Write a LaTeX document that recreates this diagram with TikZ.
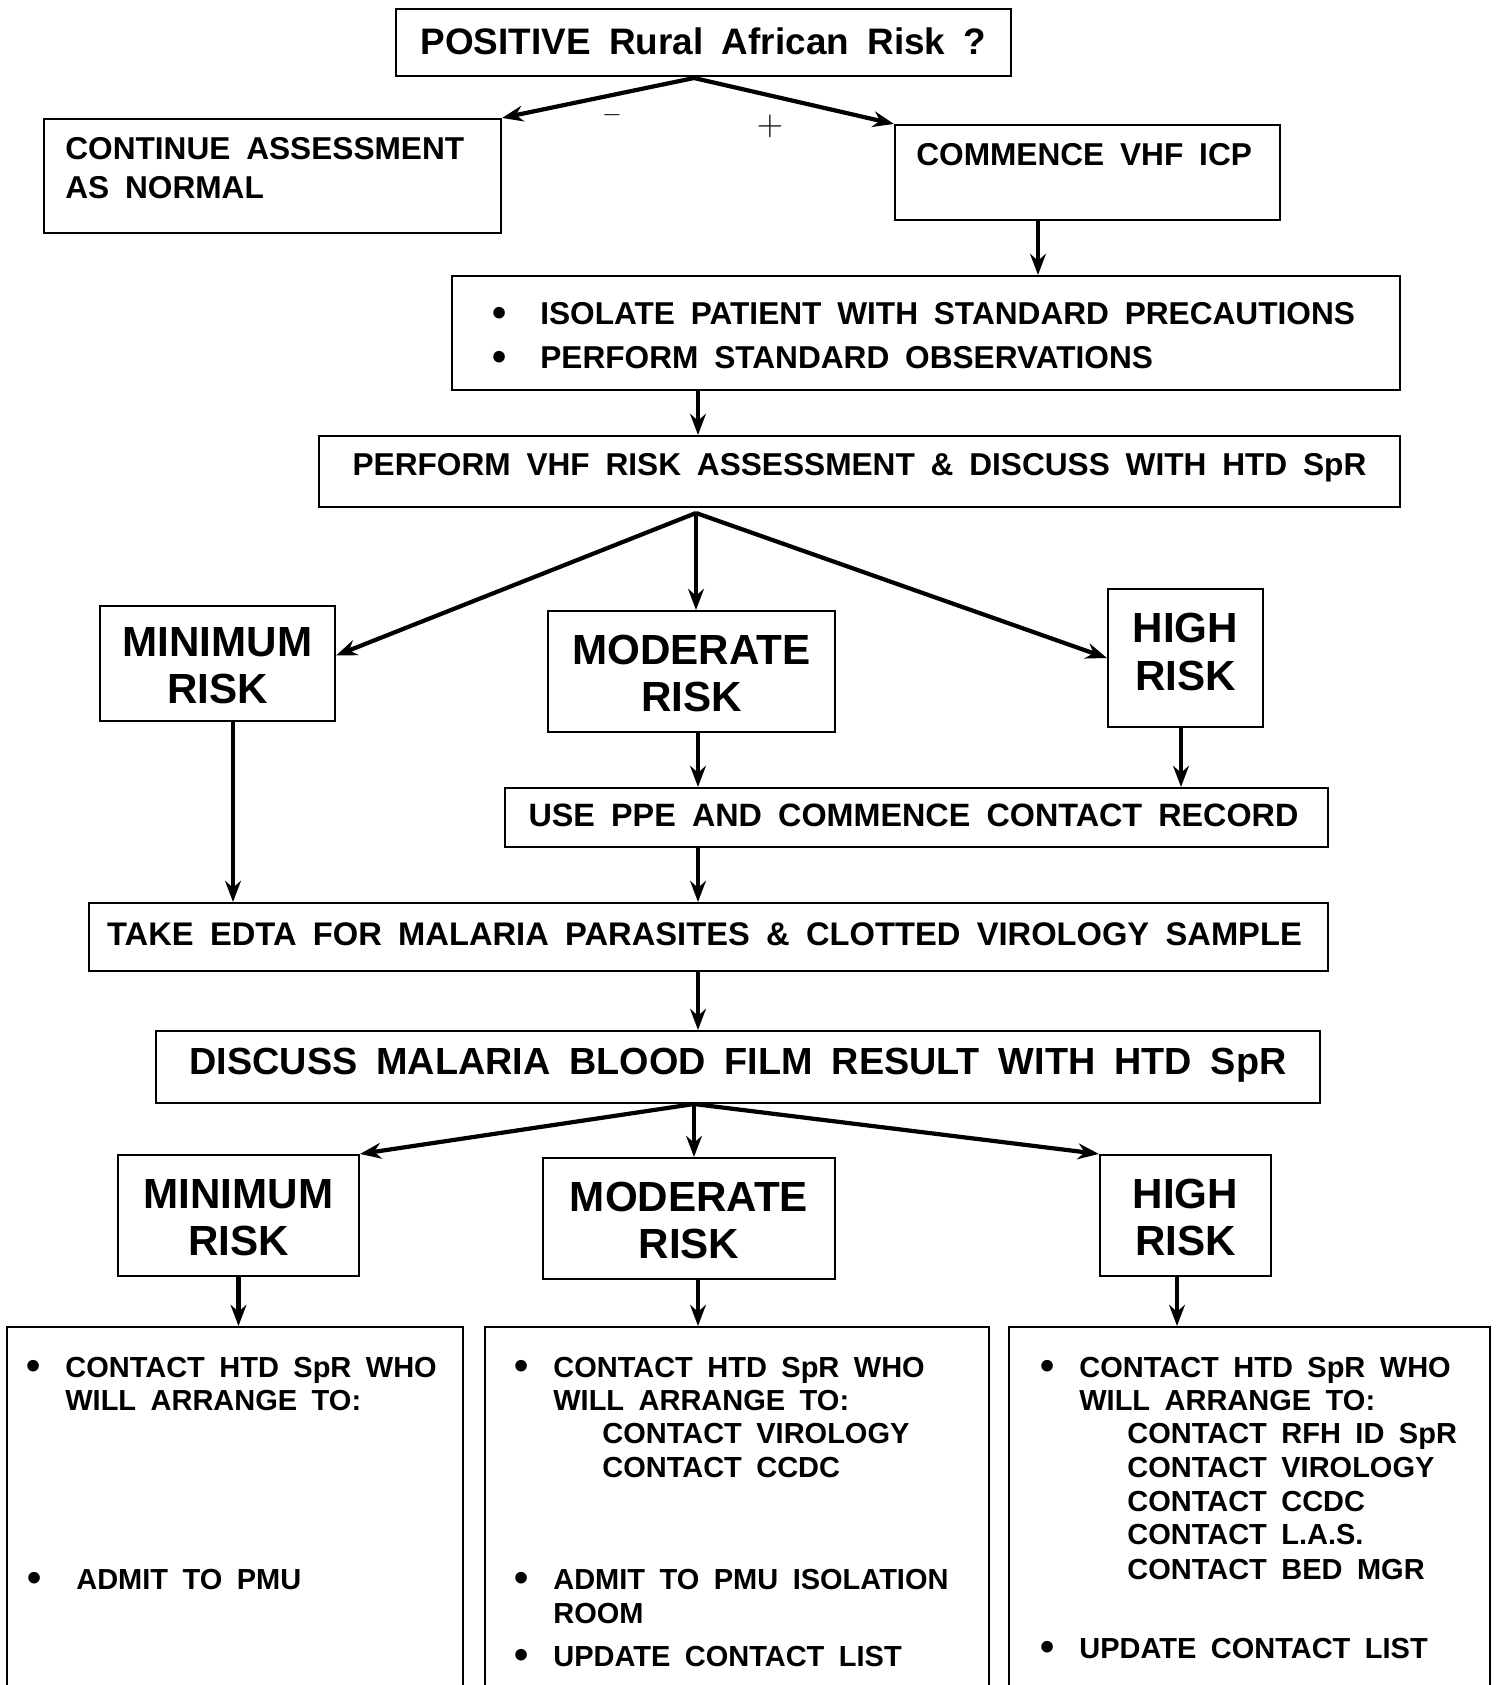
\documentclass[tikz,border=0pt]{standalone}
\usepackage{fontspec}
\setmainfont{Liberation Sans}[WordSpace=1.8]
\usetikzlibrary{arrows.meta,fit,calc}

\newcommand{\bul}[1][14pt]{\llap{\raisebox{-1.2pt}{\fontsize{23}{23}\selectfont\textbullet}\hspace{#1}}}

\begin{document}
\begin{tikzpicture}[
  x=0.02cm, y=-0.02cm,
  box/.style={draw, line width=1.2pt, inner sep=0pt},
  mid/.style={inner sep=0pt, font=\fontsize{18}{21}\selectfont\bfseries},
  risk/.style={inner sep=0pt, align=center, font=\fontsize{24}{27}\selectfont\bfseries},
  conn/.style={line width=2.4pt, -{Stealth[length=12pt, width=9pt]}},
  txt/.style={anchor=base west, inner sep=0pt, font=\fontsize{18}{21}\selectfont\bfseries},
  small/.style={txt, font=\fontsize{16.5}{19}\selectfont\bfseries}
]
\useasboundingbox (0,0) rectangle (1499,1685);

% boxes
\node[box, fit={(396,9) (1011,76)}] (top) {};
\node[box, fit={(44,119) (501,233)}] (cont) {};
\node[box, fit={(895,125) (1280,220)}] (comm) {};
\node[box, fit={(452,276) (1400,390)}] (isol) {};
\node[box, fit={(319,436) (1400,507)}] (perf) {};
\node[box, fit={(100,606) (335,721)}] (min1) {};
\node[box, fit={(548,611) (835,732)}] (mod1) {};
\node[box, fit={(1108,589) (1263,727)}] (high1) {};
\node[box, fit={(505,788) (1328,847)}] (ppe) {};
\node[box, fit={(89,903) (1328,971)}] (edta) {};
\node[box, fit={(156,1031) (1320,1103)}] (disc) {};
\node[box, fit={(118,1155) (359,1276)}] (min2) {};
\node[box, fit={(543,1158) (835,1279)}] (mod2) {};
\node[box, fit={(1100,1155) (1271,1276)}] (high2) {};
\node[box, fit={(7,1327) (463,1700)}] (bl) {};
\node[box, fit={(485,1327) (989,1700)}] (bm) {};
\node[box, fit={(1009,1327) (1490,1700)}] (br) {};

% centred texts
\node[mid, font=\fontsize{21}{24}\selectfont\bfseries] (topT) at ($(top)+(0,-1)$) {POSITIVE Rural African Risk ?};
\node[mid] (perfT) at ($(perf)+(0,-4)$) {PERFORM VHF RISK ASSESSMENT \& DISCUSS WITH HTD SpR};
\node[risk] (min1T) at ($(min1)+(0,2)$) {MINIMUM\\RISK};
\node[risk] (mod1T) at ($(mod1)+(0,2)$) {MODERATE\\RISK};
\node[risk] (high1T) at ($(high1)+(0,-6)$) {HIGH\\RISK};
\node[mid, font=\fontsize{18.4}{21}\selectfont\bfseries] (ppeT) at ($(ppe)+(-3,-2)$) {USE PPE AND COMMENCE CONTACT RECORD};
\node[mid, font=\fontsize{18.6}{21}\selectfont\bfseries] (edtaT) at ($(edta)+(-4,-3)$) {TAKE EDTA FOR MALARIA PARASITES \& CLOTTED VIROLOGY SAMPLE};
\node[mid, font=\fontsize{21.5}{24}\selectfont\bfseries] (discT) at ($(disc)+(0,-2)$) {DISCUSS MALARIA BLOOD FILM RESULT WITH HTD SpR};
\node[risk] (min2T) at ($(min2)+(0,2)$) {MINIMUM\\RISK};
\node[risk] (mod2T) at ($(mod2)+(0,2)$) {MODERATE\\RISK};
\node[risk] (high2T) at ($(high2)+(0,2)$) {HIGH\\RISK};

% texts in the boxes
\node[txt] (contA) at (65,159) {CONTINUE ASSESSMENT};
\node[txt] (contB) at (65,198) {AS NORMAL};
\node[txt] (commA) at (916,165) {COMMENCE VHF ICP};
\node[txt] (isolA) at (540,324) {\bul[19pt]ISOLATE PATIENT WITH STANDARD PRECAUTIONS};
\node[txt] (isolB) at (540,368) {\bul[19pt]PERFORM STANDARD OBSERVATIONS};

\node[small] (blA) at (65,1377) {\bul CONTACT HTD SpR WHO};
\node[small] (blB) at (65,1410) {WILL ARRANGE TO:};
\node[small] (blC) at (76,1589) {\bul[20pt]ADMIT TO PMU};

\node[small] (bmA) at (553,1377) {\bul CONTACT HTD SpR WHO};
\node[small] (bmB) at (553,1410) {WILL ARRANGE TO:};
\node[small] (bmC) at (602,1443) {CONTACT VIROLOGY};
\node[small] (bmD) at (602,1477) {CONTACT CCDC};
\node[small] (bmE) at (553,1589) {\bul ADMIT TO PMU ISOLATION};
\node[small] (bmF) at (553,1623) {ROOM};
\node[small] (bmG) at (553,1666) {\bul UPDATE CONTACT LIST};

\node[small] (brA) at (1079,1377) {\bul CONTACT HTD SpR WHO};
\node[small] (brB) at (1079,1410) {WILL ARRANGE TO:};
\node[small] (brC) at (1127,1443) {CONTACT RFH ID SpR};
\node[small] (brD) at (1127,1477) {CONTACT VIROLOGY};
\node[small] (brE) at (1127,1511) {CONTACT CCDC};
\node[small] (brF) at (1127,1544) {CONTACT L.A.S.};
\node[small] (brG) at (1127,1579) {CONTACT BED MGR};
\node[small] (brH) at (1079,1658) {\bul UPDATE CONTACT LIST};

% branch signs
\node[font=\fontsize{14}{14}\selectfont] (minus) at (612,115) {$-$};
\node[font=\fontsize{22}{22}\selectfont] (plus) at (770,126) {$+$};

% fork points and arrow columns
\coordinate (tfork) at (694,78);
\coordinate (pfork) at (696,513);
\coordinate (dfork) at (694,1104);
\coordinate (spine) at (698,0);
\coordinate (cx) at (1038,0);
\coordinate (mx) at (233,0);
\coordinate (hx) at (1181,0);
\coordinate (hx2) at (1177,0);

% connectors
\draw[conn] (tfork) -- (cont.north east);
\draw[conn] (tfork) -- (comm.north west);
\draw[conn] (comm.south -| cx) -- (isol.north -| cx);
\draw[conn] (isol.south -| spine) -- (perf.north -| spine);
\draw[conn] (pfork) -- ($(min1.east)+(0,-8)$);
\draw[conn] (pfork) -- (pfork |- mod1.north);
\draw[conn] (pfork) -- (high1.west);
\draw[conn] (min1.south -| mx) -- (edta.north -| mx);
\draw[conn] (mod1.south -| spine) -- (ppe.north -| spine);
\draw[conn] (high1.south -| hx) -- (ppe.north -| hx);
\draw[conn] (ppe.south -| spine) -- (edta.north -| spine);
\draw[conn] (edta.south -| spine) -- (disc.north -| spine);
\draw[conn] (dfork) -- (min2.north east);
\draw[conn] (dfork) -- (dfork |- mod2.north);
\draw[conn] (dfork) -- (high2.north west);
\draw[conn] (min2.south) -- (bl.north -| min2.south);
\draw[conn] (mod2.south -| spine) -- (bm.north -| spine);
\draw[conn] (high2.south -| hx2) -- (br.north -| hx2);

\end{tikzpicture}
\end{document}
